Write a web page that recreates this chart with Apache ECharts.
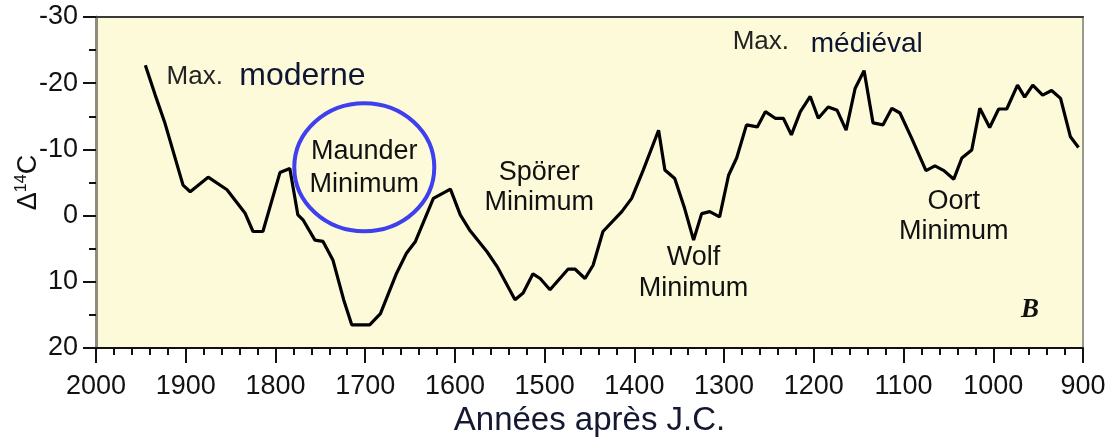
<!DOCTYPE html>
<html lang="fr">
<head>
<meta charset="UTF-8">
<title>Delta 14C</title>
<script src="https://cdn.jsdelivr.net/npm/echarts@6/dist/echarts.min.js"></script>
</head>
<body style="margin:0;background:#fff">
<div id="main" style="width:1115px;height:439px;"></div>
<script>
// années (après J.C.) et Δ14C
var years = [1945, 1934, 1923, 1903, 1895, 1875, 1854, 1834, 1825, 1814,
    1795, 1784, 1775, 1769, 1756, 1747, 1736, 1724, 1715, 1695,
    1683, 1665, 1654, 1644, 1624, 1605, 1594, 1583, 1564, 1553,
    1533, 1524, 1513, 1505, 1494, 1474, 1466, 1455, 1446, 1435,
    1414, 1403, 1390, 1373, 1366, 1355, 1344, 1334, 1325, 1316,
    1305, 1295, 1286, 1275, 1263, 1254, 1243, 1234, 1225, 1215,
    1204, 1195, 1184, 1174, 1164, 1154, 1144, 1134, 1123, 1113,
    1104, 1091, 1075, 1065, 1055, 1044, 1035, 1024, 1015, 1004,
    994, 985, 973, 965, 956, 945, 935, 925, 914, 905];
var delta14C = [-22.7, -18.2, -13.9, -4.6, -3.6, -5.8, -3.9, -0.4, 2.4, 2.4,
    -6.5, -7.1, -0.1, 0.7, 3.7, 3.9, 6.7, 12.7, 16.5, 16.5,
    14.8, 8.7, 5.7, 3.9, -2.6, -4.0, -0.1, 2.3, 5.5, 7.7,
    12.7, 11.7, 8.8, 9.5, 11.2, 8.1, 8.1, 9.5, 7.5, 2.4,
    -0.6, -2.6, -6.9, -12.9, -6.9, -5.6, -1.1, 3.7, -0.3, -0.6,
    0.2, -6.1, -8.7, -13.7, -13.4, -15.7, -14.7, -14.7, -12.2, -15.7,
    -18.0, -14.7, -16.4, -15.9, -12.9, -19.2, -21.9, -14.0, -13.7, -16.2,
    -15.5, -11.7, -6.8, -7.5, -6.8, -5.5, -8.7, -9.9, -16.2, -13.3,
    -16.1, -16.1, -19.7, -17.9, -19.7, -18.2, -18.9, -17.7, -11.9, -10.3];

// annotations placées en coordonnées (année, Δ14C)
var notes = [
    { text: 'Max.', at: [1890, -20.9], font: '26px "Liberation Sans"', color: '#222' },
    { text: 'moderne', at: [1770, -21.1], font: '32px "Liberation Sans"', color: '#0d1533' },
    { text: 'Maunder\nMinimum', at: [1701, -7.2], font: '27px "Liberation Sans"', color: '#111', lh: 33 },
    { text: 'Spörer\nMinimum', at: [1506, -4.3], font: '27px "Liberation Sans"', color: '#111', lh: 30 },
    { text: 'Wolf\nMinimum', at: [1334, 8.7], font: '27px "Liberation Sans"', color: '#111', lh: 31 },
    { text: 'Max.', at: [1259, -26.2], font: '26px "Liberation Sans"', color: '#222' },
    { text: 'médiéval', at: [1141, -25.9], font: '28px "Liberation Sans"', color: '#0d1533' },
    { text: 'Oort\nMinimum', at: [1044, 0.1], font: '27px "Liberation Sans"', color: '#111', lh: 30 },
    { text: 'B', at: [959, 14.3], font: 'italic bold 27px "Liberation Serif"', color: '#111' }
];
var maunderCircle = { at: [1701, -7.3], rx: 70, ry: 64 };

var chart = echarts.init(document.getElementById('main'));
var points = years.map(function (y, i) { return [y, delta14C[i]]; });
var tickFont = '"Liberation Sans Narrow", "Liberation Sans", Arial, sans-serif';

var option = {
    animation: false,
    textStyle: { fontFamily: '"Liberation Sans", Arial, sans-serif' },
    grid: {
        left: 96, right: 32, top: 17, bottom: 91,
        outerBoundsMode: 'none',
        containLabel: false,
        show: true,
        backgroundColor: '#fdfad9',
        borderColor: '#9a9a90',
        borderWidth: 2
    },
    xAxis: [{
        type: 'value',
        min: 900, max: 2000, interval: 100,
        inverse: true,
        name: 'Années après J.C.',
        nameLocation: 'middle',
        nameGap: 55,
        nameTextStyle: { fontSize: 33, color: '#141830' },
        axisLine: { show: true, onZero: false, lineStyle: { color: '#111', width: 2 } },
        axisTick: { show: true, length: 15, lineStyle: { color: '#111', width: 2 } },
        minorTick: { show: true, splitNumber: 5, length: 7, lineStyle: { color: '#111', width: 2 } },
        axisLabel: {
            fontSize: 27, fontFamily: tickFont, color: '#111', margin: 25,
            formatter: function (v) { return String(v); }
        },
        splitLine: { show: false }
    }, {
        type: 'value',
        min: 900, max: 2000,
        inverse: true,
        position: 'top',
        axisLine: { show: true, onZero: false, lineStyle: { color: '#3a3a3a', width: 2 } },
        axisTick: { show: false },
        axisLabel: { show: false },
        splitLine: { show: false }
    }],
    yAxis: {
        type: 'value',
        min: -30, max: 20, interval: 10,
        inverse: true,
        name: '{a|Δ}{s|14}{a|C}',
        nameLocation: 'middle',
        nameRotate: 90,
        nameGap: 52,
        nameMoveOverlap: false,
        nameTextStyle: {
            rich: {
                a: { fontSize: 27, color: '#111' },
                s: { fontSize: 16, color: '#111', padding: [0, 0, 14, 0] }
            }
        },
        axisLine: { show: true, onZero: false, lineStyle: { color: '#8d8d7c', width: 3 } },
        axisTick: { show: true, length: 13, lineStyle: { color: '#111', width: 2 } },
        minorTick: { show: true, splitNumber: 2, length: 7, lineStyle: { color: '#111', width: 2 } },
        axisLabel: { fontSize: 27, fontFamily: tickFont, color: '#111', margin: 18 },
        splitLine: { show: false }
    },
    series: [{
        type: 'line',
        data: points,
        showSymbol: false,
        lineStyle: { color: '#000', width: 3.2 }
    }]
};
chart.setOption(option);

// texte et ellipse positionnés via les axes
var graphics = notes.map(function (n) {
    var p = chart.convertToPixel({ seriesIndex: 0 }, n.at);
    return {
        type: 'text', x: p[0], y: p[1], z: 10,
        style: {
            text: n.text, font: n.font, fill: n.color,
            align: 'center', verticalAlign: 'middle',
            lineHeight: n.lh || 30
        }
    };
});
var c = chart.convertToPixel({ seriesIndex: 0 }, maunderCircle.at);
graphics.push({
    type: 'ellipse', z: 10,
    shape: { cx: c[0], cy: c[1], rx: maunderCircle.rx, ry: maunderCircle.ry },
    style: { fill: 'none', stroke: '#3f3fee', lineWidth: 4 }
});
chart.setOption({ graphic: graphics });
</script>
</body>
</html>
